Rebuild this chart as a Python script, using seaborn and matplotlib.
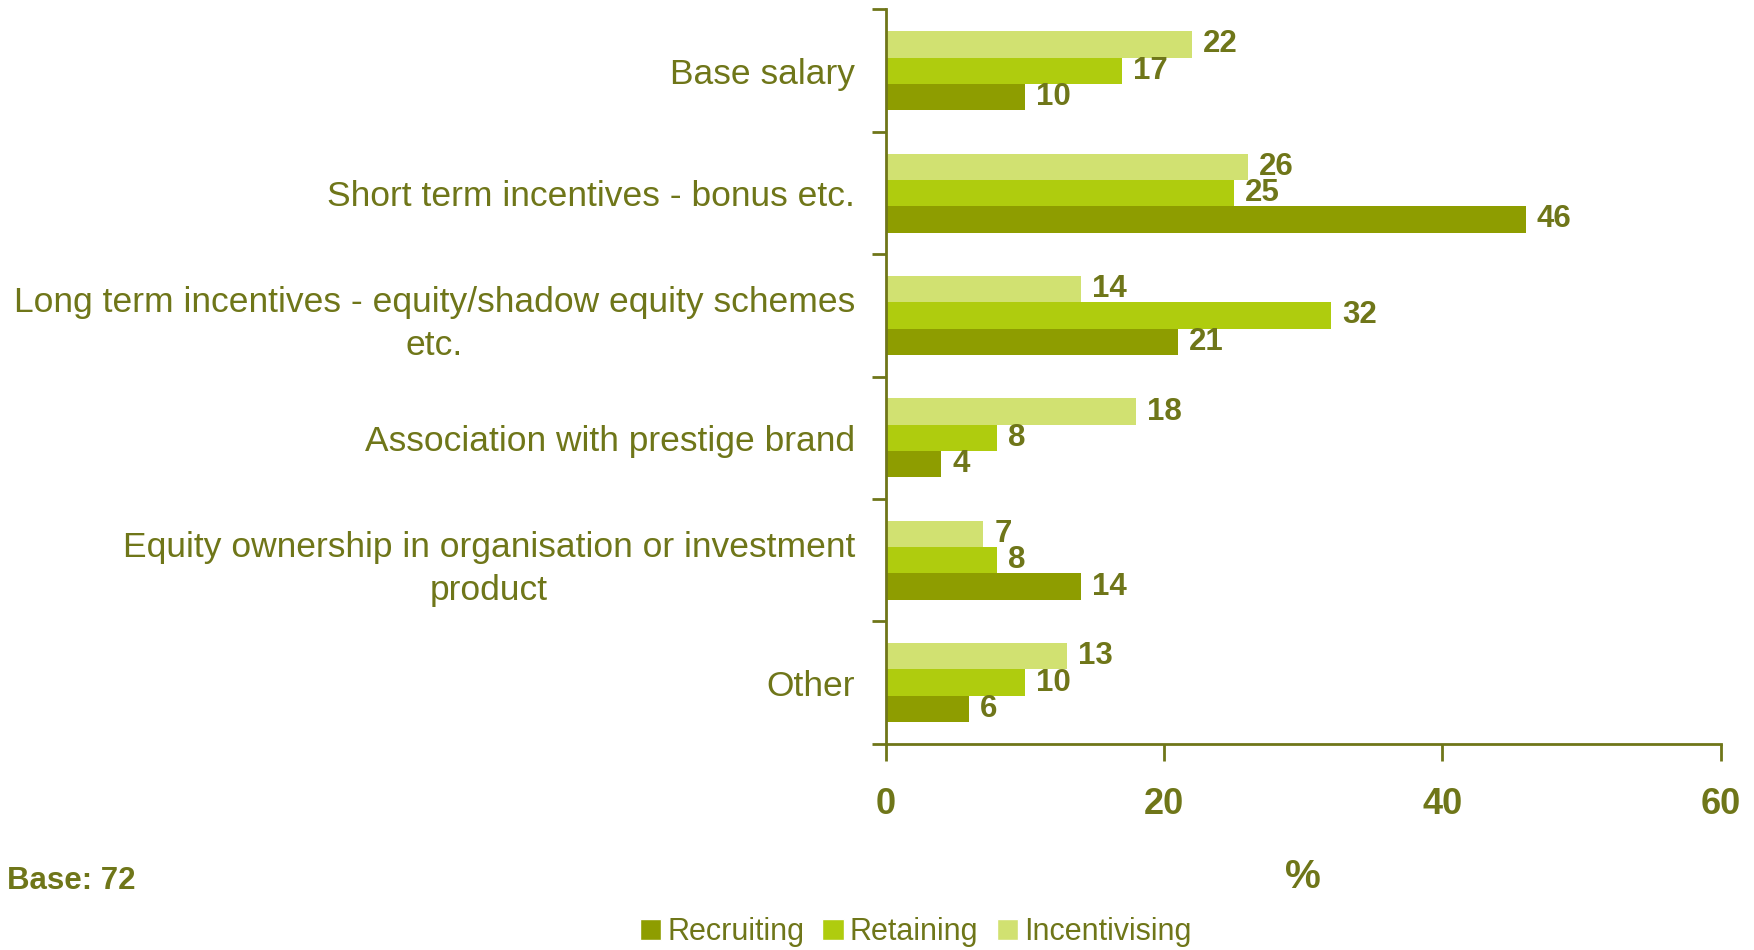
#Reward elements chart

import pandas as pd
import numpy as np
import matplotlib.pyplot as plt
import seaborn as sns
from matplotlib.patches import Patch

#data
factors = ['Base salary',
           'Short term incentives - bonus etc.',
           'Long term incentives - equity/shadow equity schemes\netc.',
           'Association with prestige brand',
           'Equity ownership in organisation or investment\nproduct',
           'Other']
recruiting = [10, 46, 21, 4, 14, 6]
retaining = [17, 25, 32, 8, 8, 10]
incentivising = [22, 26, 14, 18, 7, 13]
purposes = ['Recruiting', 'Retaining', 'Incentivising']
x_ticks = [0, 20, 40, 60]

colours = {'Recruiting': '#8E9D00', 'Retaining': '#AFCC0E', 'Incentivising': '#D1E171'}
text_col = '#6F7619'

#long table for seaborn
df = pd.DataFrame({
    'Factor': factors * 3,
    'Purpose': ['Recruiting'] * 6 + ['Retaining'] * 6 + ['Incentivising'] * 6,
    'Value': recruiting + retaining + incentivising,
})

sns.set_style('white')
plt.rcParams['font.family'] = ['Liberation Sans', 'DejaVu Sans']

fig = plt.figure(figsize=(17.54, 9.5), dpi=100)
ax = fig.add_axes([0.505, 0.217, 0.476, 0.773])

#incentivising first so it sits on top of each group
order = ['Incentivising', 'Retaining', 'Recruiting']
sns.barplot(data=df, y='Factor', x='Value', hue='Purpose', hue_order=order,
            palette=colours, orient='h', width=0.645, saturation=1,
            linewidth=0, legend=False, ax=ax)

for cont in ax.containers:
    ax.bar_label(cont, padding=8, color=text_col, fontsize=22.5, fontweight='bold')

ax.set_xlim(0, 60)
ax.set_ylim(5.5, -0.5)
ax.set_xticks(x_ticks)
ax.set_xticklabels([str(t) for t in x_ticks], fontsize=26, fontweight='bold', color=text_col)
ax.set_yticks(np.arange(-0.5, 6, 1), minor=True)
ax.tick_params(axis='y', which='major', left=False, length=0, pad=22)
ax.tick_params(axis='y', which='minor', left=True, length=10, width=2, color=text_col, direction='out')
ax.tick_params(axis='x', bottom=True, length=12, width=2, color=text_col, direction='out', pad=19)
for lab in ax.get_yticklabels():
    lab.set_fontsize(25.5)
    lab.set_color(text_col)
    lab.set_multialignment('center')
    lab.set_linespacing(1.4)

ax.set_ylabel('')
ax.set_xlabel('%', fontsize=29, fontweight='bold', color=text_col, labelpad=26)

for side in ['top', 'right']:
    ax.spines[side].set_visible(False)
for side in ['left', 'bottom']:
    ax.spines[side].set_color(text_col)
    ax.spines[side].set_linewidth(2)

fig.text(0.004, 0.073, 'Base: 72', fontsize=22.5, fontweight='bold', color=text_col, va='center')

handles = [Patch(facecolor=colours[p]) for p in purposes]
fig.legend(handles, purposes, loc='center', bbox_to_anchor=(0.522, 0.019), ncol=3,
           frameon=False, fontsize=22, labelcolor=text_col, handlelength=0.7,
           handleheight=0.7, handletextpad=0.2, columnspacing=0.6)

plt.savefig('out.png', dpi=100)
